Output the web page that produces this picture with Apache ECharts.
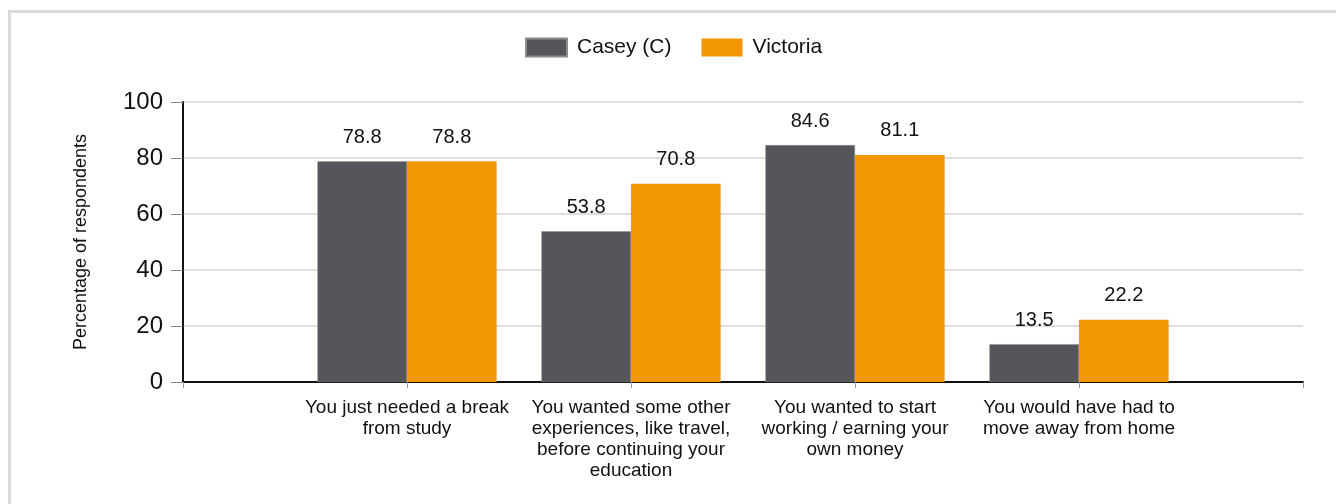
<!DOCTYPE html>
<html>
<head>
<meta charset="utf-8">
<script src="https://cdn.jsdelivr.net/npm/echarts@6/dist/echarts.min.js"></script>
<style>
  html, body { margin: 0; padding: 0; background: #fff; }
  #chart_container { width: 1336px; height: 504px; }
</style>
</head>
<body>
<div id="chart_container"></div>
<script>
// categories (empty slots at both ends keep the bars centred on the ticks)
const categories = [
    "",
    "You just needed a break\nfrom study",
    "You wanted some other\nexperiences, like travel,\nbefore continuing your\neducation",
    "You wanted to start\nworking / earning your\nown money",
    "You would have had to\nmove away from home",
    ""
]
const caseyValues = [null, 78.8, 53.8, 84.6, 13.5, null]
const victoriaValues = [null, 78.8, 70.8, 81.1, 22.2, null]
const seriesNames = ["Casey (C)", "Victoria"]

const font = "Liberation Sans, Arial, sans-serif"

let chart = echarts.init(document.getElementById('chart_container'))

let option = {
    animation: false,
    textStyle: { fontFamily: font },
    graphic: [
        {
            type: "rect",
            shape: { x: 9.5, y: 11.5, width: 1400, height: 600 },
            style: { fill: "none", stroke: "#d9d9d9", lineWidth: 3 }
        }
    ],
    legend: {
        top: 32,
        left: 520,
        icon: "rect",
        itemWidth: 41,
        itemHeight: 18,
        itemGap: 30,
        textStyle: { fontSize: 21, color: "#111", fontFamily: font, padding: [0, 0, 0, 5] },
        data: seriesNames
    },
    grid: { left: 183, right: 33, top: 102, bottom: 122 },
    xAxis: {
        type: "category",
        data: categories,
        boundaryGap: false,
        axisLine: { lineStyle: { color: "#111", width: 2 } },
        axisTick: { show: true, length: 6, lineStyle: { color: "#999" } },
        axisLabel: {
            interval: 0,
            margin: 15,
            fontSize: 19,
            lineHeight: 21,
            color: "#111",
            fontFamily: font
        },
        splitLine: { show: false }
    },
    yAxis: {
        type: "value",
        min: 0,
        max: 100,
        interval: 20,
        name: "Percentage of respondents",
        nameLocation: "middle",
        nameGap: 93,
        nameTextStyle: { fontSize: 18, color: "#111", fontFamily: font },
        axisLine: { show: true, lineStyle: { color: "#111", width: 2 } },
        axisTick: { show: true, length: 12, lineStyle: { color: "#888" } },
        axisLabel: { fontSize: 24, color: "#111", margin: 20, fontFamily: font },
        splitLine: { lineStyle: { color: "#dedede", width: 2 } }
    },
    series: [
        {
            name: seriesNames[0],
            type: "bar",
            data: caseyValues,
            barCategoryGap: "20%",
            barGap: "0%",
            itemStyle: { color: "#54565b", borderColor: "#8a8c90", borderWidth: 0.5 },
            label: { show: true, position: "top", distance: 14, fontSize: 20, color: "#111", fontFamily: font }
        },
        {
            name: seriesNames[1],
            type: "bar",
            data: victoriaValues,
            barCategoryGap: "20%",
            barGap: "0%",
            itemStyle: { color: "#f39700" },
            label: { show: true, position: "top", distance: 14, fontSize: 20, color: "#111", fontFamily: font }
        }
    ]
}

chart.setOption(option)
</script>
</body>
</html>
